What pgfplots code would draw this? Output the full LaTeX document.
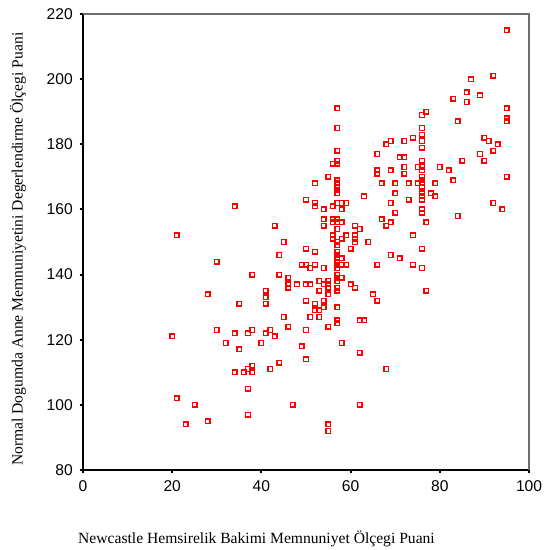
\documentclass[border=0pt]{standalone}
\usepackage{pgfplots}
\pgfplotsset{compat=1.18}
\usepackage{fontspec}
\setmainfont{Liberation Serif}
\newfontfamily\arialf{Liberation Sans}
\begin{document}
\begin{tikzpicture}
\begin{axis}[
  scale only axis, width=223pt, height=228pt,
  xmin=0, xmax=100, ymin=80, ymax=220,
  xtick={0,20,...,100}, ytick={80,100,...,220},
  axis lines=left, axis line style={-, black, line width=1pt},
  tick align=outside, major tick length=1.6pt,
  every tick/.style={black, line width=1pt},
  minor tick num=0,
  /pgf/number format/assume math mode=true,
  tick label style={font=\arialf\fontsize{7.8}{9}\selectfont},
  xlabel={Newcastle Hemsirelik Bakimi Memnuniyet Ölçegi Puani},
  ylabel={Normal Dogumda Anne Memnuniyetini Degerlendirme Ölçegi Puani},
  label style={font=\fontsize{7.8}{9}\selectfont, inner sep=0pt},
  xlabel style={at={(axis description cs:0.389,-0.150)}, anchor=center},
  ylabel style={at={(axis description cs:-0.146,0.484)}, anchor=center},
  clip=false,
]
\path (rel axis cs:-0.1861,-0.1754) rectangle (rel axis cs:1.0291,1.0307);
\draw[color={rgb,255:red,110;green,110;blue,110}, line width=1pt] (rel axis cs:0,1) -- (rel axis cs:1,1) -- (rel axis cs:1,0);
\addplot[only marks, mark=square, mark size=1.15pt, draw=red, color=red, mark options={draw=red, line width=0.7pt, fill=none}] table {
x y
20 121
21 152
21 102
23 94
25 100
28 95
28 134
30 144
30 123
32 119
34 161
34 122
34 110
35 131
35 117
36 110
37 122
37 111
37 105
37 97
38 140
38 123
38 112
38 110
40 119
41 135
41 133
41 131
41 122
42 123
42 111
43 155
43 121
44 146
44 140
44 113
45 150
45 127
46 139
46 137
46 136
46 124
47 100
48 137
49 143
49 118
50 163
50 148
50 143
50 137
50 132
50 123
50 114
51 142
51 137
51 127
52 168
52 162
52 161
52 147
52 143
52 131
52 129
53 138
53 135
53 129
53 127
54 160
54 157
54 155
54 142
54 137
54 132
54 130
55 170
55 138
55 137
55 136
55 134
55 124
55 94
55 92
56 174
56 161
56 157
56 156
56 152
56 151
57 191
57 185
57 178
57 175
57 174
57 169
57 168
57 167
57 166
57 165
57 162
57 157
57 156
57 154
57 150
57 149
57 147
57 146
57 145
57 144
57 143
57 142
57 140
57 139
57 138
57 136
57 135
57 130
57 126
57 125
58 162
58 160
58 156
58 151
58 145
58 143
58 139
58 119
59 162
59 152
59 143
60 148
60 137
61 155
61 152
61 151
61 150
61 136
62 154
62 126
62 116
62 100
63 164
63 126
64 150
65 134
66 177
66 172
66 171
66 143
66 132
67 168
67 157
68 180
68 155
68 111
69 181
69 172
69 162
69 156
69 146
70 168
70 165
70 159
71 176
71 145
72 181
72 176
72 173
72 171
73 168
73 163
74 182
74 152
74 143
75 173
75 168
76 189
76 185
76 183
76 181
76 179
76 175
76 173
76 172
76 170
76 169
76 168
76 167
76 165
76 164
76 163
76 160
76 159
76 148
76 142
77 190
77 156
77 135
78 165
79 168
79 164
80 173
82 172
83 194
83 169
84 187
84 158
85 175
86 196
86 193
87 200
89 195
89 177
90 182
90 175
91 181
92 201
92 178
92 162
93 180
94 160
95 215
95 191
95 188
95 187
95 170
};
\end{axis}
\end{tikzpicture}
\end{document}
